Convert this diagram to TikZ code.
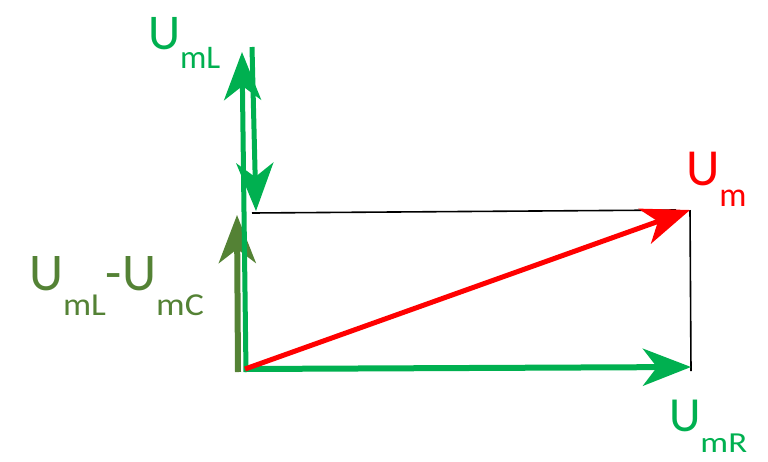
\documentclass[tikz,border=0pt]{standalone}
\usepackage{fontspec}
\usepackage{graphicx}
\setmainfont{Carlito}
\usetikzlibrary{arrows.meta}
\definecolor{vgreen}{HTML}{00B050}
\definecolor{vred}{HTML}{FF0000}
\definecolor{volive}{HTML}{548235}
% #1 main size, #2 sub size, #3 lowering, #4 horizontal stretch, #5 subscript
\newcommand{\lbl}[5]{{\fontsize{#1}{#1}\selectfont U}\lower#3pt\hbox{\scalebox{#4}[1]{\fontsize{#2}{#2}\selectfont #5}}}
\tikzset{
  vec/.style={line width=6pt, -{Stealth[length=48pt,width=37pt,inset=14pt]}},
  aux/.style={draw=black, line width=1.6pt},
  lab/.style={anchor=base west, inner sep=0pt, outer sep=0pt}
}
\begin{document}
\begin{tikzpicture}[x=1pt,y=-1pt]
\useasboundingbox (0,0) rectangle (768,461);
% points
\coordinate (O) at (245,369);
\coordinate (R) at (691,367);
\coordinate (M) at (690,210);
\coordinate (Lb) at (246,372);
\coordinate (Lt) at (242,52);
\coordinate (Ct) at (252,47);
\coordinate (Cb) at (256,211);
\coordinate (Db) at (238,372);
\coordinate (Dt) at (237,215);
\coordinate (H1) at (252,213);
\coordinate (H2) at (676,210);
\coordinate (V1) at (690,210);
\coordinate (V2) at (691,371);
% auxiliary lines
\draw[aux] (H1) -- (H2);
\draw[aux] (V1) -- (V2);
% vectors
\draw[vec, volive] (Db) -- (Dt);
\draw[vec, vgreen, line width=5pt] (Lb) -- (Lt);
\draw[vec, vgreen, line width=5pt] (Ct) -- (Cb);
\draw[vec, vgreen] (O) -- (R);
\draw[vec, vred, line width=5pt] (O) -- (M);
% labels
\node[lab, text=vgreen] (tL) at (148,49) {\lbl{50}{33}{19}{1}{mL}};
\node[lab, text=volive] (tD) at (29,290) {\lbl{53}{32}{25}{1.1}{mL}{\fontsize{53}{53}\selectfont -}\lbl{53}{32}{25}{1.12}{mC}};
\node[lab, text=vgreen] (tR) at (669,431) {\lbl{49}{29}{21}{1.2}{mR}};
\node[lab, text=vred] (tM) at (686,185) {\lbl{52}{34}{21}{1}{m}};
\end{tikzpicture}
\end{document}
